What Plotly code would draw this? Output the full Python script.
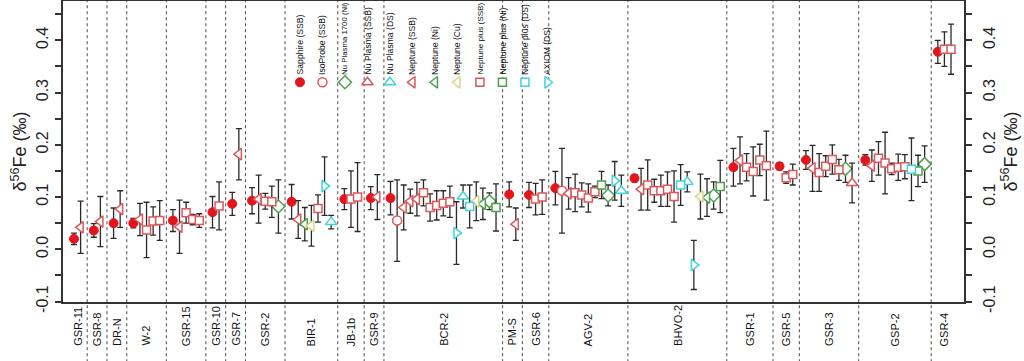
import plotly.graph_objects as go

# ---------------- data ----------------
group_names = ["GSR-11", "GSR-8", "DR-N", "W-2", "GSR-15", "GSR-10", "GSR-7", "GSR-2",
               "BIR-1", "JB-1b", "GSR-9", "BCR-2", "PM-S", "GSR-6", "AGV-2", "BHVO-2",
               "GSR-1", "GSR-5", "GSR-3", "GSP-2", "GSR-4"]
group_sizes = [2, 2, 2, 5, 5, 2, 2, 5, 7, 3, 2, 17, 2, 3, 11, 14, 6, 3, 8, 10, 3]

point_instrument = [
    "SAP", "NES",
    "SAP", "NES",
    "SAP", "NES",
    "SAP", "NES", "NPPS", "NPPS", "NPPS",
    "SAP", "NES", "NPPS", "NPPS", "NPPS",
    "SAP", "NPPS",
    "SAP", "NES",
    "SAP", "NES", "NPPS", "NPPS", "NP17",
    "SAP", "NES", "NEN", "NEC", "NPPS", "AX", "NPD",
    "SAP", "NPPS", "NPPS",
    "SAP", "NES",
    "SAP", "ISO", "NES", "NES", "NES", "NPPS", "NPPS", "NPPS", "NPPS", "NPPS", "AX", "NPD",
    "NPPD", "NEC", "NEN", "NP17", "NPPN",
    "SAP", "NES",
    "SAP", "NPPS", "NPPS",
    "SAP", "ISO", "NES", "NPPS", "NPPS", "NPPS", "NPPS", "NPPN", "NP17", "AX", "NPD",
    "SAP", "NES", "NPPS", "NPPS", "NPPS", "NPPS", "NPPS", "NPPD", "NPD", "AX", "NEC", "NEN",
    "NP17", "NPPN",
    "SAP", "NES", "NPPS", "NPPS", "NPPS", "NPPS",
    "SAP", "NPPS", "NPPS",
    "SAP", "NES", "NPPS", "NPPS", "NPPS", "NPPS", "NP17", "NPS",
    "SAP", "NES", "NPPS", "NPPS", "NPPS", "NPPS", "NPPS", "NPPD", "NPPN", "NP17",
    "SAP", "NPPS", "NPPS",
]
point_value = [
    0.020, 0.042,
    0.036, 0.053,
    0.050, 0.077,
    0.050, 0.057, 0.037, 0.054, 0.055,
    0.055, 0.043, 0.070, 0.057, 0.055,
    0.071, 0.083,
    0.087, 0.182,
    0.093, 0.096, 0.092, 0.091, 0.082,
    0.091, 0.057, 0.048, 0.045, 0.078, 0.121, 0.052,
    0.096, 0.096, 0.100,
    0.098, 0.100,
    0.098, 0.055, 0.080, 0.092, 0.096, 0.108, 0.080, 0.084, 0.088, 0.091, 0.031, 0.101,
    0.082, 0.092, 0.087, 0.092, 0.080,
    0.105, 0.048,
    0.104, 0.096, 0.100,
    0.117, 0.112, 0.107, 0.108, 0.104, 0.098, 0.110, 0.123, 0.103, 0.131, 0.112,
    0.136, 0.115, 0.123, 0.112, 0.112, 0.115, 0.101, 0.123, 0.129, -0.030, 0.101, 0.099,
    0.103, 0.120,
    0.157, 0.170, 0.157, 0.149, 0.171, 0.160,
    0.159, 0.137, 0.143,
    0.171, 0.155, 0.147, 0.159, 0.172, 0.152, 0.154, 0.127,
    0.171, 0.160, 0.174, 0.165, 0.154, 0.157, 0.158, 0.153, 0.150, 0.163,
    0.378, 0.383, 0.383,
]
point_error = [
    0.011, 0.050,
    0.013, 0.048,
    0.029, 0.035,
    0.009, 0.031, 0.053, 0.027, 0.038,
    0.021, 0.051, 0.020, 0.010, 0.013,
    0.030, 0.046,
    0.022, 0.049,
    0.025, 0.046, 0.015, 0.030, 0.051,
    0.033, 0.036, 0.032, 0.039, 0.026, 0.056, 0.013,
    0.020, 0.054, 0.066,
    0.022, 0.043,
    0.032, 0.078, 0.043, 0.023, 0.032, 0.025, 0.026, 0.028, 0.024, 0.030, 0.060, 0.022,
    0.041, 0.037, 0.030, 0.016, 0.045,
    0.024, 0.031,
    0.024, 0.030, 0.033,
    0.032, 0.081, 0.030, 0.036, 0.023, 0.027, 0.011, 0.026, 0.020, 0.037, 0.030,
    0.007, 0.040, 0.048, 0.022, 0.030, 0.033, 0.049, 0.039, 0.019, 0.047, 0.043, 0.036,
    0.026, 0.050,
    0.036, 0.045, 0.026, 0.047, 0.030, 0.066,
    0.007, 0.011, 0.020,
    0.018, 0.044, 0.036, 0.020, 0.028, 0.020, 0.026, 0.038,
    0.010, 0.030, 0.032, 0.059, 0.011, 0.025, 0.023, 0.060, 0.030, 0.035,
    0.022, 0.033, 0.048,
]

instrument_order = ["SAP", "ISO", "NP17", "NPS", "NPD", "NES", "NEN", "NEC",
                    "NPPS", "NPPN", "NPPD", "AX"]
instrument_labels = ["Sapphire (SSB)", "IsoProbe (SSB)", "Nu Plasma 1700 (Ni)",
                     "Nu Plasma (SSB)", "Nu Plasma (DS)", "Neptune (SSB)", "Neptune (Ni)",
                     "Neptune (Cu)", "Neptune plus (SSB)", "Neptune plus (Ni)",
                     "Neptune plus (DS)", "AXIOM (DS)"]

# ---------------- styles ----------------
RED = "#e3141c"
SALMON = "#d9595c"
GREEN = "#4f9f4f"
CYAN = "#3fd2df"
KHAKI = "#d6d68a"
style = {
    "SAP": dict(symbol="circle", size=9, color=RED, line=dict(color=RED, width=1)),
    "ISO": dict(symbol="circle", size=9, color="white", line=dict(color=SALMON, width=1.5)),
    "NP17": dict(symbol="diamond", size=10, color="white", line=dict(color=GREEN, width=1.5)),
    "NPS": dict(symbol="triangle-up", size=10, color="white", line=dict(color=SALMON, width=1.5)),
    "NPD": dict(symbol="triangle-up", size=10, color="white", line=dict(color=CYAN, width=1.5)),
    "NES": dict(symbol="triangle-left", size=10, color="white", line=dict(color=SALMON, width=1.5)),
    "NEN": dict(symbol="triangle-left", size=10, color="white", line=dict(color=GREEN, width=1.5)),
    "NEC": dict(symbol="triangle-left", size=10, color="white", line=dict(color=KHAKI, width=1.5)),
    "NPPS": dict(symbol="square", size=8, color="white", line=dict(color=SALMON, width=1.5)),
    "NPPN": dict(symbol="square", size=8, color="white", line=dict(color=GREEN, width=1.5)),
    "NPPD": dict(symbol="square", size=8, color="white", line=dict(color=CYAN, width=1.5)),
    "AX": dict(symbol="triangle-right", size=10, color="white", line=dict(color=CYAN, width=1.5)),
}
legend_font_size = {"NP17": 7.8, "NPPS": 8.1}

FONT = "Liberation Sans, Arial, Helvetica, sans-serif"
AXC = "#333333"

# ---------------- positions (slot layout) ----------------
xs_all = []
group_centers = []
separators = []
slot = 0
for gi, n in enumerate(group_sizes):
    start = slot
    for k in range(n):
        xs_all.append(slot)
        slot += 1
    group_centers.append((start + slot - 1) / 2)
    if gi < len(group_sizes) - 1:
        separators.append(slot)
        slot += 1

fig = go.Figure()

for inst in instrument_order:
    idx = [i for i, c in enumerate(point_instrument) if c == inst]
    if not idx:
        continue
    fig.add_trace(go.Scatter(
        x=[xs_all[i] for i in idx],
        y=[point_value[i] for i in idx],
        mode="markers",
        marker=style[inst],
        error_y=dict(type="data", array=[point_error[i] for i in idx],
                     color="#2a2a2a", thickness=1.3, width=3),
        showlegend=False,
        hoverinfo="skip",
    ))

# y2 dummy trace for right axis
fig.add_trace(go.Scatter(x=[0], y=[0], yaxis="y2", mode="markers",
                         marker=dict(opacity=0), showlegend=False, hoverinfo="skip"))

# legend (vertical rotated labels inside plot)
leg_x0 = 0.263
leg_dx = 0.02497
leg_marker_y = 0.730
leg_text_y = 0.756
for j, inst in enumerate(instrument_order):
    lx = leg_x0 + j * leg_dx
    st = dict(style[inst])
    fig.add_trace(go.Scatter(x=[lx], y=[leg_marker_y], xaxis="x3", yaxis="y3",
                             mode="markers", marker=st, showlegend=False, hoverinfo="skip"))
    fig.add_annotation(x=lx, y=leg_text_y, xref="paper", yref="paper",
                       text=instrument_labels[j], textangle=-90, showarrow=False,
                       xanchor="center", yanchor="bottom", borderpad=0, borderwidth=0,
                       font=dict(family=FONT, size=legend_font_size.get(inst, 8.6), color="#111"))

# group labels
for name, cx in zip(group_names, group_centers):
    fig.add_annotation(x=cx, y=-0.153, xref="x", yref="paper", text=name,
                       textangle=-90, showarrow=False, xanchor="center", yanchor="bottom",
                       font=dict(family=FONT, size=11, color="#111"))

# separators
for s in separators:
    fig.add_shape(type="line", xref="x", yref="paper", x0=s, x1=s, y0=-0.2, y1=1,
                  line=dict(color="#4a4a4a", width=1, dash="dot"), layer="below")

yr = [-0.1009, 0.4752]
common_y = dict(range=yr, tickvals=[-0.1, 0.0, 0.1, 0.2, 0.3, 0.4],
                ticktext=["-0.1", "0.0", "0.1", "0.2", "0.3", "0.4"],
                ticks="outside", ticklen=6, tickwidth=1.5, tickcolor=AXC,
                tickangle=-90, tickfont=dict(family=FONT, size=16, color="#222"),
                showline=True, linewidth=2, linecolor=AXC, showgrid=False, zeroline=False,
                minor=dict(tickvals=[-0.05, 0.05, 0.15, 0.25, 0.35, 0.45], ticks="outside",
                           ticklen=6, tickwidth=1.5, tickcolor=AXC),
                automargin=False)

fig.update_layout(
    width=1024, height=361,
    margin=dict(l=63, r=60, t=1, b=59),
    paper_bgcolor="white", plot_bgcolor="white",
    font=dict(family=FONT, color="#222"),
    xaxis=dict(range=[-1.67, 134.97], showline=True, mirror=True, linewidth=2, linecolor=AXC,
               showticklabels=False, ticks="", showgrid=False, zeroline=False, automargin=False),
    yaxis=dict(**common_y, side="left", ticklabelstandoff=1,
               title=dict(text="δ<sup>56</sup>Fe (‰)", font=dict(family=FONT, size=18, color="#222"),
                          standoff=2)),
    yaxis2=dict(**common_y, side="right", overlaying="y", matches="y", ticklabelstandoff=4,
                title=dict(text="δ<sup>56</sup>Fe (‰)", font=dict(family=FONT, size=18, color="#222"),
                           standoff=4)),
    xaxis3=dict(range=[0, 1], overlaying="x", visible=False),
    yaxis3=dict(range=[0, 1], overlaying="y", visible=False),
)

fig.write_html("out.html", config={"displayModeBar": False},
               post_script="document.body.style.margin='0';document.body.style.overflow='hidden';")
